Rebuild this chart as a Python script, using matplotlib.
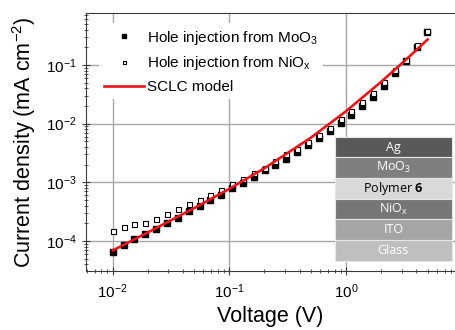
import numpy as np
import matplotlib
matplotlib.use('Agg')
import matplotlib.pyplot as plt
from matplotlib.patches import Rectangle

plt.rcParams['font.family'] = ['Liberation Sans', 'DejaVu Sans']
plt.rcParams['mathtext.default'] = 'regular'
plt.rcParams['mathtext.fontset'] = 'custom'
plt.rcParams['mathtext.rm'] = 'Liberation Sans'
plt.rcParams['mathtext.bf'] = 'Open Sans:bold'

# voltage (V)
voltage = [0.0100, 0.01239, 0.01535, 0.01901, 0.02356, 0.02918, 0.03615, 0.04479,
           0.05549, 0.06875, 0.08517, 0.1055, 0.1307, 0.1620, 0.2007, 0.2486,
           0.3080, 0.3816, 0.4728, 0.5857, 0.7256, 0.899, 1.114, 1.380, 1.709,
           2.118, 2.624, 3.250, 4.027, 4.989]
# current density (mA cm-2)
j_moo3 = [6.4e-5, 8.5e-5, 1.08e-4, 1.32e-4, 1.62e-4, 2.05e-4, 2.49e-4, 3.28e-4,
          4.0e-4, 5.0e-4, 6.1e-4, 7.9e-4, 9.6e-4, 1.22e-3, 1.60e-3, 1.97e-3,
          2.53e-3, 3.29e-3, 4.33e-3, 5.6e-3, 7.6e-3, 1.01e-2, 1.40e-2, 2.0e-2,
          2.88e-2, 4.38e-2, 7.4e-2, 0.116, 0.20, 0.37]
j_niox = [1.46e-4, 1.73e-4, 1.97e-4, 2.03e-4, 2.40e-4, 2.92e-4, 3.51e-4, 4.32e-4,
          5.0e-4, 6.0e-4, 7.3e-4, 9.2e-4, 1.13e-3, 1.43e-3, 1.75e-3, 2.28e-3,
          3.0e-3, 3.65e-3, 4.8e-3, 6.3e-3, 8.4e-3, 1.19e-2, 1.66e-2, 2.34e-2,
          3.37e-2, 5.2e-2, 8.2e-2, 0.122, 0.216, 0.38]
# SCLC model curve
v_model = [0.01, 0.02, 0.05, 0.1, 0.2, 0.5, 1.0, 2.0, 3.0, 4.0, 5.0]
j_model = [6.9e-5, 1.40e-4, 3.64e-4, 7.75e-4, 1.74e-3, 5.78e-3, 1.63e-2,
           5.16e-2, 0.106, 0.179, 0.272]

layers = ['Ag', 'MoO$_3$', 'Polymer $\\mathbf{6}$', 'NiO$_x$', 'ITO', 'Glass']
layer_colors = ['#595959', '#7f7f7f', '#d9d9d9', '#767676', '#a5a5a5', '#bfbfbf']
layer_text = ['white', 'white', 'black', 'white', 'white', 'white']

fig = plt.figure(figsize=(4.55, 3.3), dpi=100)
ax = fig.add_axes([86/455, 1-271/330, (455-86)/455, (271-13)/330])

ax.plot(voltage, j_moo3, 's', color='black', ms=3.8, label='Hole injection from MoO$_3$', zorder=3)
ax.plot(voltage, j_niox, 's', mfc='white', mec='black', mew=0.8, ms=3.6,
        label='Hole injection from NiO$_x$', zorder=4)
ax.plot(v_model, j_model, '-', color='#e8151b', lw=1.9, label='SCLC model', zorder=5)

ax.set_xscale('log')
ax.set_yscale('log')
ax.set_xlim(5.9e-3, 8.6)
ax.set_ylim(3.08e-5, 0.77)

ax.grid(True, which='major', color='#a8a8a8', lw=1.0)
ax.set_axisbelow(True)
for s in ['left', 'bottom', 'top']:
    ax.spines[s].set_color('#3a3a3a')
ax.spines['right'].set_visible(False)
ax.tick_params(which='major', direction='inout', length=6, width=0.8, labelsize=11, color='#3a3a3a')
ax.tick_params(which='minor', direction='inout', length=3, width=0.6, color='#3a3a3a')
ax.tick_params(top=False, right=False)
ax.tick_params(axis='x', pad=5)

ax.set_xlabel('Voltage (V)', fontsize=15.5, labelpad=4)
ax.set_ylabel('Current density (mA cm$^{-2}$)', fontsize=15.5, labelpad=6)

leg = ax.legend(loc='upper left', bbox_to_anchor=(0.035, 0.96), fontsize=11,
                frameon=True, framealpha=1, edgecolor='none', fancybox=False,
                borderaxespad=0, borderpad=0.35, handlelength=2.6, handletextpad=0.2,
                labelspacing=0.5, markerscale=0.6)

x0 = (335-86)/369
w = (451.7-335)/369
h = 20.67/258
top = 1 - (136.7-13)/258
for i, (name, c, tc) in enumerate(zip(layers, layer_colors, layer_text)):
    y = top - (i+1)*h
    ax.add_patch(Rectangle((x0, y), w, h, transform=ax.transAxes, facecolor=c,
                           edgecolor='#e6e6e6', lw=0.8, zorder=6, clip_on=False))
    ax.text(x0 + w/2, y + h/2, name, transform=ax.transAxes, ha='center', va='center',
            color=tc, fontsize=9, family='Open Sans', zorder=7)

fig.savefig('out.png', dpi=100)
